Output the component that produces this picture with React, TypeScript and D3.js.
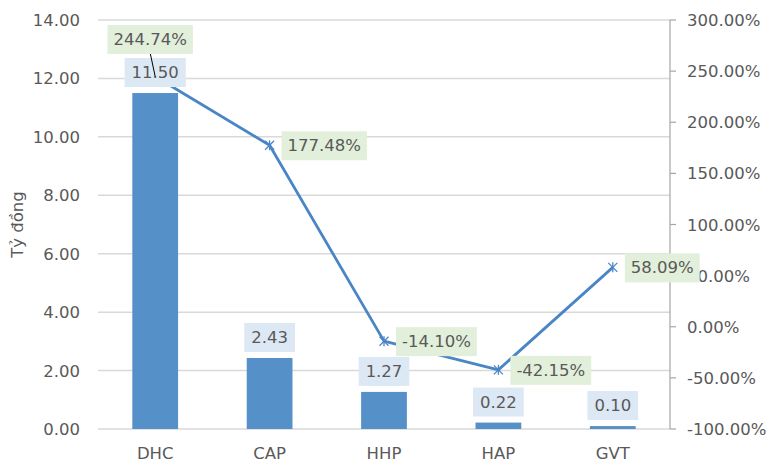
import React from "react";
import * as d3 from "d3";

const categories = ["DHC", "CAP", "HHP", "HAP", "GVT"];
const barValues = [11.5, 2.43, 1.27, 0.22, 0.1];
const pctValues = [244.74, 177.48, -14.1, -42.15, 58.09];
const leftTicks = [0, 2, 4, 6, 8, 10, 12, 14];
const rightTicks = [-100, -50, 0, 50, 100, 150, 200, 250, 300];

const W = 773, H = 468;
const m = { left: 98, right: 670, top: 20, bottom: 429 };
const font = "'DejaVu Sans', Verdana, sans-serif";
const textColor = "#595959";
const FS = 16.5;

const fmt2 = (v: number) => d3.format(".2f")(v).replace("\u2212", "-");
const textW = (s: string) =>
  s.split("").reduce((a, ch) => a + (ch === "." ? 0.318 : ch === "%" ? 0.95 : ch === "-" ? 0.361 : 0.636), 0) * FS;

export default function App() {
  const x = d3.scaleBand<string>().domain(categories).range([m.left, m.right]).paddingInner(0.6).paddingOuter(0.3);
  const xc = (c: string) => (x(c) as number) + x.bandwidth() / 2;
  const yL = d3.scaleLinear().domain([0, 14]).range([m.bottom, m.top]);
  const yR = d3.scaleLinear().domain([-100, 300]).range([m.bottom, m.top]);
  const line = d3.line<number>().x((_, i) => xc(categories[i])).y((d) => yR(d));

  return (
    <svg width={W} height={H} style={{ position: "absolute", left: 0, top: 0 }} fontFamily={font}>
      <rect width={W} height={H} fill="#fff" />
      {leftTicks.map((t) => (
        <g key={t}>
          <line x1={m.left} x2={m.right} y1={yL(t)} y2={yL(t)} stroke="#d9d9d9" strokeWidth={1.5} />
          <text x={80} y={yL(t) + 6} textAnchor="end" fontSize={FS} fill={textColor}>{fmt2(t)}</text>
        </g>
      ))}
      <line x1={m.right} x2={m.right} y1={m.top} y2={m.bottom} stroke="#a6a6a6" strokeWidth={1.2} />
      {rightTicks.map((t) => (
        <g key={t}>
          <line x1={m.right} x2={m.right + 6} y1={yR(t)} y2={yR(t)} stroke="#a6a6a6" strokeWidth={1.2} />
          <text x={687} y={yR(t) + 6} fontSize={FS} fill={textColor}>{fmt2(t) + "%"}</text>
        </g>
      ))}
      <text transform={`translate(23,${(m.top + m.bottom) / 2}) rotate(-90)`} textAnchor="middle" fontSize={FS} fill={textColor}>Tỷ đồng</text>
      {categories.map((c, i) => (
        <g key={c}>
          <rect x={x(c)} y={yL(barValues[i])} width={x.bandwidth()} height={m.bottom - yL(barValues[i])} fill="#5590c8" />
          <text x={xc(c)} y={459} textAnchor="middle" fontSize={FS} fill={textColor}>{c}</text>
        </g>
      ))}
      <path d={line(pctValues) || ""} fill="none" stroke="#4a86c5" strokeWidth={2.8} strokeLinejoin="round" />
      {pctValues.map((v, i) => {
        const px = xc(categories[i]), py = yR(v);
        return (
          <g key={i} stroke="#4a86c5" strokeWidth={1.3}>
            <line x1={px - 4.5} x2={px + 4.5} y1={py - 4.5} y2={py + 4.5} />
            <line x1={px - 4.5} x2={px + 4.5} y1={py + 4.5} y2={py - 4.5} />
            <line x1={px} x2={px} y1={py - 5} y2={py + 5} />
          </g>
        );
      })}
      {barValues.map((v, i) => {
        const c = categories[i];
        const label = fmt2(v);
        const w = textW(label) + 14;
        const cy = yL(v) - 21;
        return (
          <g key={c}>
            <rect x={xc(c) - w / 2} y={cy - 14} width={w} height={29} fill="#dde8f5" />
            <text x={xc(c)} y={cy + 6} textAnchor="middle" fontSize={FS} fill={textColor}>{label}</text>
          </g>
        );
      })}
      {pctValues.map((v, i) => {
        const label = fmt2(v) + "%";
        const w = textW(label) + 12;
        const first = i === 0;
        const cy = first ? yL(barValues[0]) - 54 : yR(v);
        const left = first ? xc(categories[0]) - 5 - w / 2 : xc(categories[i]) + 12;
        return (
          <g key={i}>
            {first && (
              <line x1={xc(categories[0]) - 5} y1={cy + 14} x2={xc(categories[0])} y2={yR(v)} stroke="#000" strokeWidth={1} />
            )}
            <rect x={left} y={cy - 14} width={w} height={29} fill="#e2efda" />
            <text x={left + w / 2} y={cy + 6} textAnchor="middle" fontSize={FS} fill={textColor}>{label}</text>
          </g>
        );
      })}
    </svg>
  );
}
